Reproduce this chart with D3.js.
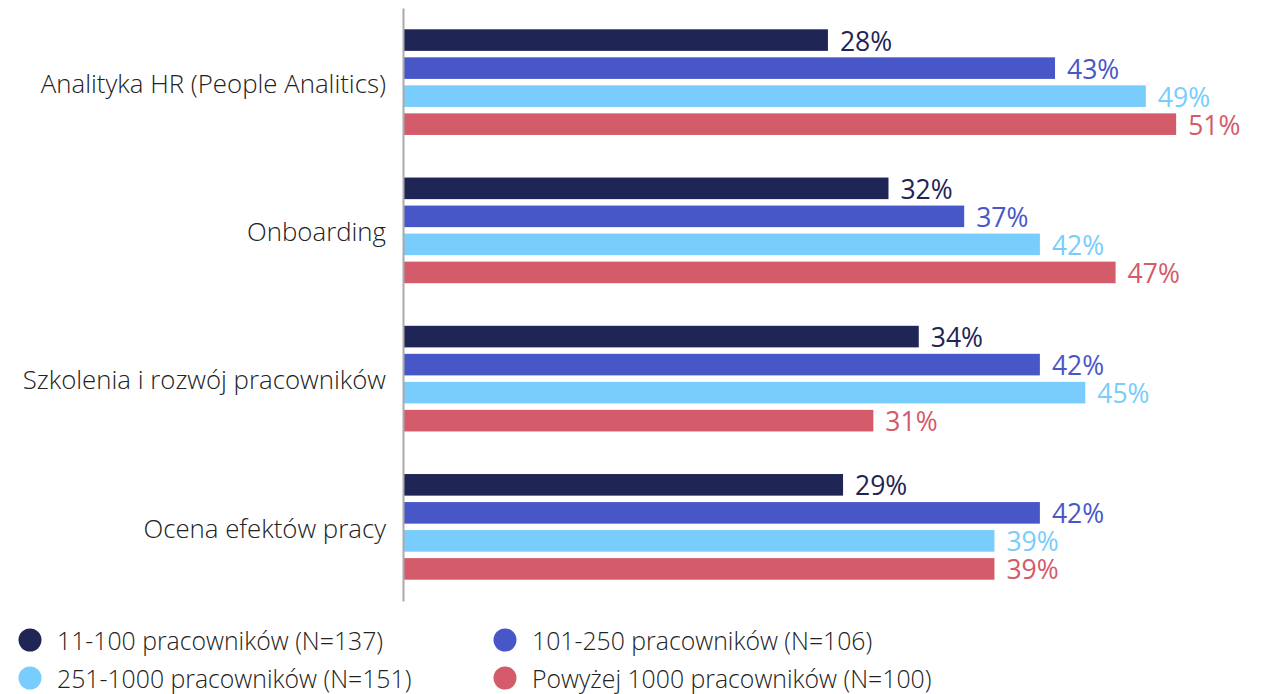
<!DOCTYPE html>
<html><head><meta charset="utf-8">
<script src="https://cdn.jsdelivr.net/npm/d3@7"></script>
<style>body{margin:0;background:#fff;} svg{display:block;font-family:"Open Sans",sans-serif;}</style>
</head><body><svg id="c" width="1263" height="694"></svg>
<script>
const categories = ["Analityka HR (People Analitics)", "Onboarding", "Szkolenia i rozwój pracowników", "Ocena efektów pracy"];
const seriesNames = ["11-100 pracowników (N=137)", "101-250 pracowników (N=106)", "251-1000 pracowników (N=151)", "Powyżej 1000 pracowników (N=100)"];
const s1 = [28, 32, 34, 29];
const s2 = [43, 37, 42, 42];
const s3 = [49, 42, 45, 39];
const s4 = [51, 47, 31, 39];
const seriesValues = [s1, s2, s3, s4];
const colors = ["#1f2555", "#4857c8", "#78cdfc", "#d45b6a"];

const svg = d3.select("#c");
const x = d3.scaleLinear().domain([0, 50]).range([404, 1161]);
const y = d3.scaleBand().domain(categories).range([8, 601]).padding(0);
const yi = d3.scaleBand().domain(d3.range(4)).range([0, y.bandwidth()]).paddingInner(0.23).paddingOuter(0.76);

const g = svg.append("g");
categories.forEach((c, ci) => {
  const gg = g.append("g").attr("transform", `translate(0,${y(c)})`);
  seriesValues.forEach((vals, si) => {
    gg.append("rect").attr("x", x(0)).attr("y", yi(si)).attr("width", x(vals[ci]) - x(0))
      .attr("height", yi.bandwidth()).attr("fill", colors[si]);
    gg.append("text").attr("x", x(vals[ci]) + 12).attr("y", yi(si) + yi.bandwidth() / 2 + 1)
      .attr("dy", "0.36em").attr("fill", colors[si]).attr("font-size", 26.5)
      .text(vals[ci] + "%");
  });
});

// category axis
const yAxis = d3.axisLeft(y).tickSize(0).tickPadding(17);
const ax = svg.append("g").attr("transform", `translate(${x(0) - 1},0)`).call(yAxis);
ax.select(".domain").attr("stroke", "#aaaaaa").attr("stroke-width", 2);
ax.selectAll("text").attr("font-size", 25.8).attr("font-weight", 300).attr("fill", "#222")
  .attr("font-family", "'Open Sans',sans-serif").attr("dy", "0.42em");

// legend
const legendPos = [[30, 640], [505, 640], [30, 678], [505, 678]];
[0, 1, 2, 3].forEach((si, i) => {
  const [lx, ly] = legendPos[i];
  svg.append("circle").attr("cx", lx).attr("cy", ly).attr("r", 11.5).attr("fill", colors[si]);
  svg.append("text").attr("x", lx + 27).attr("y", ly).attr("dy", "0.4em").attr("font-weight", 300)
    .attr("font-size", 24.8).attr("fill", "#222").text(seriesNames[si]);
});
</script></body></html>
